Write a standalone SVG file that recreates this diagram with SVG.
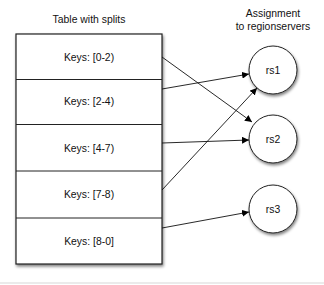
<svg xmlns="http://www.w3.org/2000/svg" width="324" height="285" viewBox="0 0 324 285">
<defs>
<filter id="sh" x="-20%" y="-20%" width="150%" height="150%">
<feGaussianBlur in="SourceAlpha" stdDeviation="1.5"/>
<feOffset dx="1" dy="2" result="b"/>
<feComponentTransfer><feFuncA type="linear" slope="0.5"/></feComponentTransfer>
<feMerge><feMergeNode/><feMergeNode in="SourceGraphic"/></feMerge>
</filter>
<marker id="ah" viewBox="0 0 10 10" refX="10" refY="5" markerWidth="7" markerHeight="7" markerUnits="userSpaceOnUse" orient="auto">
<path d="M0,0 L10,5 L0,10 z" fill="#000"/>
</marker>
</defs>
<style>
text{font-family:"Liberation Sans",Arial,sans-serif;font-size:10.4px;fill:#111;text-anchor:middle}
.box{fill:#fff;stroke:#222;stroke-width:1.2}
.div{stroke:#222;stroke-width:1}
.node{fill:#fff;stroke:#222;stroke-width:1}
.edge{stroke:#111;stroke-width:0.9;fill:none;marker-end:url(#ah)}
</style>
<rect width="324" height="285" fill="#fff"/>
<line x1="0" y1="283" x2="324" y2="283" stroke="#e4e4e4" stroke-width="1.5"/>
<text x="89" y="23">Table with splits</text>
<text x="273" y="17">Assignment</text>
<text x="273" y="30">to regionservers</text>
<g id="table">
<rect class="box" x="16" y="34" width="146" height="230" filter="url(#sh)"/>
<line class="div" x1="16" y1="79.5" x2="162" y2="79.5"/>
<line class="div" x1="16" y1="124.5" x2="162" y2="124.5"/>
<line class="div" x1="16" y1="171" x2="162" y2="171"/>
<line class="div" x1="16" y1="218" x2="162" y2="218"/>
</g>
<g id="row1"><text x="89" y="61">Keys: [0-2)</text></g>
<g id="row2"><text x="89" y="105">Keys: [2-4)</text></g>
<g id="row3"><text x="89" y="152">Keys: [4-7)</text></g>
<g id="row4"><text x="89" y="198">Keys: [7-8)</text></g>
<g id="row5"><text x="89" y="245">Keys: [8-0]</text></g>
<g id="rs1"><circle class="node" cx="273" cy="70" r="24" filter="url(#sh)"/><text x="273" y="74">rs1</text></g>
<g id="rs2"><circle class="node" cx="273" cy="139" r="24" filter="url(#sh)"/><text x="273" y="143">rs2</text></g>
<g id="rs3"><circle class="node" cx="273" cy="209" r="24" filter="url(#sh)"/><text x="273" y="213">rs3</text></g>
<g id="connectors">
<line class="edge" x1="162" y1="57" x2="252" y2="122"/>
<line class="edge" x1="162" y1="89" x2="249" y2="74"/>
<line class="edge" x1="162" y1="143" x2="249" y2="140"/>
<line class="edge" x1="162" y1="190" x2="257" y2="88"/>
<line class="edge" x1="162" y1="228" x2="249" y2="212"/>
</g>
</svg>
